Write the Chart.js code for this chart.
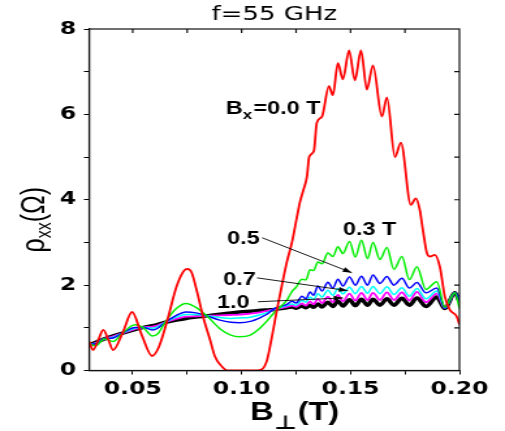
<!DOCTYPE html>
<html>
<head>
<meta charset="utf-8">
<script src="https://cdn.jsdelivr.net/npm/chart.js@4/dist/chart.umd.min.js"></script>
<style>
  html, body { margin: 0; padding: 0; background: #fff; overflow: hidden; }
  /* the original figure is stretched sideways, so the canvas is too */
  #plot { transform: scaleX(1.3015); transform-origin: 0 0; }
</style>
</head>
<body>
<canvas id="plot" width="388" height="431"></canvas>
<script>
// B_perp (T) for the Bx = 0.0 T trace
const fieldRed = [0.030, 0.0318, 0.0342, 0.0365, 0.0388, 0.0410, 0.0455, 0.0497, 0.0540, 0.0589,
  0.0620, 0.0660, 0.0700, 0.0730, 0.0750, 0.0770, 0.0795, 0.0823, 0.0855, 0.0878,
  0.0910, 0.0935, 0.1000, 0.1070, 0.1094, 0.1117, 0.1139, 0.1162, 0.1185, 0.1208,
  0.1231, 0.1254, 0.1268, 0.1282, 0.1300, 0.1310, 0.1332, 0.1345, 0.1369, 0.1401,
  0.1419, 0.1442, 0.1465, 0.1493, 0.1520, 0.1548, 0.1575, 0.1603, 0.1644, 0.1667,
  0.1704, 0.1731, 0.1777, 0.1800, 0.1818, 0.1832, 0.1850, 0.1864, 0.1887, 0.1910,
  0.1933, 0.1956, 0.1988, 0.2000];
const rhoRed = [0.68, 0.48, 0.72, 0.95, 0.72, 0.48, 0.90, 1.37, 0.85, 0.34,
  0.55, 1.20, 1.95, 2.30, 2.38, 2.30, 1.85, 1.26, 0.72, 0.32,
  0.09, 0.00, 0.00, 0.00, 0.03, 0.25, 0.79, 1.42, 2.00, 2.55,
  3.00, 3.60, 3.95, 4.20, 4.55, 5.00, 5.15, 5.80, 5.95, 6.66,
  6.45, 7.20, 6.82, 7.50, 6.80, 7.50, 6.58, 7.15, 5.95, 6.40,
  5.00, 5.34, 3.88, 4.03, 3.76, 3.30, 2.76, 2.67, 2.71, 2.43,
  1.73, 1.42, 1.26, 1.07];

// B_perp (T) shared by the other traces
const field = [0.030, 0.033, 0.037, 0.041, 0.045, 0.051, 0.055, 0.059, 0.0615, 0.065,
  0.070, 0.0745, 0.079, 0.084, 0.090, 0.095, 0.099, 0.104, 0.109, 0.112,
  0.115, 0.118, 0.1208, 0.1231, 0.1250, 0.1277, 0.1295, 0.1314, 0.1330, 0.1350,
  0.1369, 0.1396, 0.1419, 0.1442, 0.1465, 0.1495, 0.1522, 0.1550, 0.1578, 0.1603,
  0.1635, 0.1667, 0.1699, 0.1736, 0.1770, 0.1805, 0.1846, 0.1896, 0.1933, 0.1979, 0.2000];
const rhoGreen = [0.62, 0.58, 0.74, 0.68, 0.86, 1.07, 1.00, 0.81, 0.86, 1.14,
  1.45, 1.57, 1.48, 1.28, 0.98, 0.83, 0.79, 0.83, 1.02, 1.18,
  1.36, 1.50, 1.65, 1.85, 1.95, 2.14, 2.12, 2.36, 2.34, 2.54,
  2.50, 2.75, 2.67, 2.90, 2.74, 3.02, 2.66, 3.05, 2.62, 3.00,
  2.60, 2.88, 2.37, 2.67, 2.13, 2.43, 1.90, 2.08, 1.48, 1.82, 1.45];
const rhoBlue = [0.61, 0.63, 0.74, 0.76, 0.87, 1.01, 1.01, 0.95, 0.99, 1.13,
  1.29, 1.37, 1.35, 1.28, 1.18, 1.13, 1.12, 1.15, 1.25, 1.33,
  1.45, 1.50, 1.55, 1.62, 1.58, 1.74, 1.68, 1.84, 1.76, 1.98,
  1.86, 2.07, 1.93, 2.14, 1.98, 2.19, 2.00, 2.21, 2.00, 2.24,
  2.04, 2.20, 2.00, 2.16, 1.93, 2.06, 1.82, 1.93, 1.46, 1.82, 1.65];
const rhoCyan = [0.61, 0.64, 0.74, 0.78, 0.87, 0.99, 1.01, 0.99, 1.03, 1.13,
  1.25, 1.31, 1.31, 1.28, 1.24, 1.22, 1.23, 1.25, 1.31, 1.36,
  1.44, 1.48, 1.52, 1.56, 1.53, 1.64, 1.60, 1.72, 1.66, 1.80,
  1.72, 1.88, 1.76, 1.92, 1.79, 1.95, 1.80, 1.97, 1.81, 1.97,
  1.80, 1.96, 1.78, 1.94, 1.74, 1.92, 1.68, 1.86, 1.46, 1.82, 1.65];
const rhoMagenta = [0.60, 0.65, 0.74, 0.80, 0.87, 0.97, 1.01, 1.03, 1.06, 1.13,
  1.21, 1.26, 1.27, 1.28, 1.29, 1.30, 1.31, 1.33, 1.37, 1.40,
  1.43, 1.46, 1.49, 1.52, 1.49, 1.57, 1.52, 1.62, 1.55, 1.68,
  1.58, 1.73, 1.60, 1.77, 1.62, 1.80, 1.64, 1.82, 1.65, 1.82,
  1.65, 1.83, 1.65, 1.83, 1.64, 1.84, 1.60, 1.80, 1.46, 1.82, 1.62];
const rhoBlack = [0.60, 0.66, 0.74, 0.81, 0.87, 0.96, 1.01, 1.05, 1.08, 1.13,
  1.18, 1.22, 1.25, 1.28, 1.32, 1.35, 1.37, 1.39, 1.41, 1.42,
  1.43, 1.45, 1.47, 1.49, 1.46, 1.51, 1.47, 1.53, 1.48, 1.56,
  1.49, 1.60, 1.50, 1.63, 1.51, 1.66, 1.52, 1.67, 1.53, 1.67,
  1.53, 1.68, 1.53, 1.69, 1.53, 1.70, 1.50, 1.72, 1.45, 1.82, 1.62];

// annotation labels, anchored in data units (left edge, baseline)
const notes = [
  { text: '0.3 T', b: 0.1465, r: 3.18 },
  { text: '0.5', b: 0.0933, r: 2.97 },
  { text: '0.7', b: 0.0915, r: 2.01 },
  { text: '1.0', b: 0.0887, r: 1.47 }
];
const arrows = [
  { from: [0.1094, 3.11], to: [0.1506, 2.29] },
  { from: [0.1071, 2.17], to: [0.1488, 1.87] },
  { from: [0.1075, 1.61], to: [0.1465, 1.70] }
];

function curve(label, xs, ys, color, width) {
  return {
    label: label,
    data: xs.map((b, i) => ({ x: b, y: ys[i] })),
    borderColor: color,
    borderWidth: width,
    pointRadius: 0,
    fill: false,
    cubicInterpolationMode: 'monotone'
  };
}

const boldFont = 'bold 18px "Liberation Sans", Arial, sans-serif';

const decor = {
  id: 'decor',
  afterDraw(chart) {
    const ctx = chart.ctx;
    const xs = chart.scales.x, ys = chart.scales.y;
    const a = chart.chartArea;
    ctx.save();

    // frame with inner ticks on top and right
    ctx.strokeStyle = '#111';
    ctx.lineWidth = 1.2;
    ctx.strokeRect(a.left, a.top, a.right - a.left, a.bottom - a.top);
    ctx.beginPath();
    xs.ticks.forEach(t => {
      if (t.value <= xs.min || t.value >= xs.max) return;
      const p = xs.getPixelForValue(t.value);
      ctx.moveTo(p, a.top); ctx.lineTo(p, a.top + 4);
    });
    ys.ticks.forEach(t => {
      if (t.value <= ys.min || t.value >= ys.max) return;
      const p = ys.getPixelForValue(t.value);
      ctx.moveTo(a.right, p); ctx.lineTo(a.right - 4, p);
    });
    ctx.stroke();

    // Bx label
    ctx.fillStyle = '#000';
    ctx.textBaseline = 'alphabetic';
    ctx.textAlign = 'left';
    let px = xs.getPixelForValue(0.0928), py = ys.getPixelForValue(6.0);
    ctx.font = boldFont;
    ctx.fillText('B', px, py);
    px += ctx.measureText('B').width;
    ctx.font = 'bold 13px "Liberation Sans", Arial, sans-serif';
    ctx.fillText('x', px, py + 5);
    px += ctx.measureText('x').width + 1;
    ctx.font = boldFont;
    ctx.fillText('=0.0 T', px, py);

    notes.forEach(n => {
      ctx.fillText(n.text, xs.getPixelForValue(n.b), ys.getPixelForValue(n.r));
    });

    // arrows
    ctx.strokeStyle = '#000';
    ctx.lineWidth = 0.9;
    arrows.forEach(ar => {
      const x0 = xs.getPixelForValue(ar.from[0]), y0 = ys.getPixelForValue(ar.from[1]);
      const x1 = xs.getPixelForValue(ar.to[0]), y1 = ys.getPixelForValue(ar.to[1]);
      const ang = Math.atan2(y1 - y0, x1 - x0);
      ctx.beginPath();
      ctx.moveTo(x0, y0); ctx.lineTo(x1, y1);
      ctx.stroke();
      ctx.beginPath();
      ctx.moveTo(x1, y1);
      ctx.lineTo(x1 - 7 * Math.cos(ang) + 2.5 * Math.sin(ang), y1 - 7 * Math.sin(ang) - 2.5 * Math.cos(ang));
      ctx.lineTo(x1 - 7 * Math.cos(ang) - 2.5 * Math.sin(ang), y1 - 7 * Math.sin(ang) + 2.5 * Math.cos(ang));
      ctx.closePath();
      ctx.fill();
    });

    // x axis title: B⊥(T)
    px = xs.getPixelForValue(0.104);
    py = a.bottom + 49.5;
    ctx.font = 'bold 25px "Liberation Sans", Arial, sans-serif';
    ctx.fillText('B', px, py);
    px += ctx.measureText('B').width;
    ctx.font = 'bold 19px "DejaVu Sans", sans-serif';
    ctx.fillText('\u22A5', px, py + 9);
    px += ctx.measureText('\u22A5').width + 1;
    ctx.font = 'bold 25px "Liberation Sans", Arial, sans-serif';
    ctx.fillText('(T)', px, py);

    // y axis title: ρxx(Ω), rotated
    const big = '25px "Liberation Sans", Arial, sans-serif';
    const small = '16px "Liberation Sans", Arial, sans-serif';
    ctx.font = big;
    const w1 = ctx.measureText('\u03C1').width, w3 = ctx.measureText('(\u03A9)').width;
    ctx.font = small;
    const w2 = ctx.measureText('xx').width;
    const total = w1 + w2 + w3;
    ctx.translate(33.8, ys.getPixelForValue(3.53));
    ctx.rotate(-Math.PI / 2);
    let tx = -total / 2;
    ctx.font = big;
    ctx.fillText('\u03C1', tx, 0);
    tx += w1;
    ctx.font = small;
    ctx.fillText('xx', tx, 5);
    tx += w2;
    ctx.font = big;
    ctx.fillText('(\u03A9)', tx, 0);

    ctx.restore();
  }
};

new Chart(document.getElementById('plot'), {
  type: 'line',
  data: {
    datasets: [
      curve('0.0 T', fieldRed, rhoRed, '#ff0000', 1.8),
      curve('0.3 T', field, rhoGreen, '#00ee00', 1.5),
      curve('0.5 T', field, rhoBlue, '#0000ff', 1.5),
      curve('0.7 T', field, rhoCyan, '#00ffff', 1.5),
      curve('magenta', field, rhoMagenta, '#ff00ff', 1.8),
      curve('1.0 T', field, rhoBlack, '#000000', 3.5)
    ]
  },
  options: {
    responsive: false,
    animation: false,
    devicePixelRatio: 1,
    layout: { padding: { left: 0, right: 35, top: 0, bottom: 0 } },
    plugins: {
      legend: { display: false },
      tooltip: { enabled: false },
      title: {
        display: true,
        text: 'f=55 GHz',
        fullSize: false,
        color: '#000',
        font: { family: '"DejaVu Sans", sans-serif', size: 20, weight: 'normal', lineHeight: 1.05 },
        padding: { top: 4, bottom: 4 }
      }
    },
    scales: {
      x: {
        type: 'linear',
        min: 0.03,
        max: 0.2,
        afterFit: s => { s.height = 60.5; },
        border: { color: '#000', width: 1.2 },
        grid: { drawOnChartArea: false, drawTicks: true, tickLength: 4, color: '#000' },
        ticks: {
          stepSize: 0.025,
          includeBounds: false,
          autoSkip: false,
          maxRotation: 0,
          padding: 4,
          color: '#000',
          font: { family: '"DejaVu Sans", sans-serif', size: 18, weight: 'bold' },
          callback: v => (Math.round(v * 1000) % 50 === 0 ? v.toFixed(2) : '')
        }
      },
      y: {
        min: 0,
        max: 8,
        afterFit: s => { s.width = 68.5; },
        border: { color: '#000', width: 1.2 },
        grid: { drawOnChartArea: false, drawTicks: true, tickLength: 4, color: '#000' },
        ticks: {
          stepSize: 1,
          padding: 6,
          color: '#000',
          font: { family: '"DejaVu Sans", sans-serif', size: 18, weight: 'bold' },
          callback: v => (v % 2 === 0 ? String(v) : '')
        }
      }
    }
  },
  plugins: [decor]
});
</script>
</body>
</html>
